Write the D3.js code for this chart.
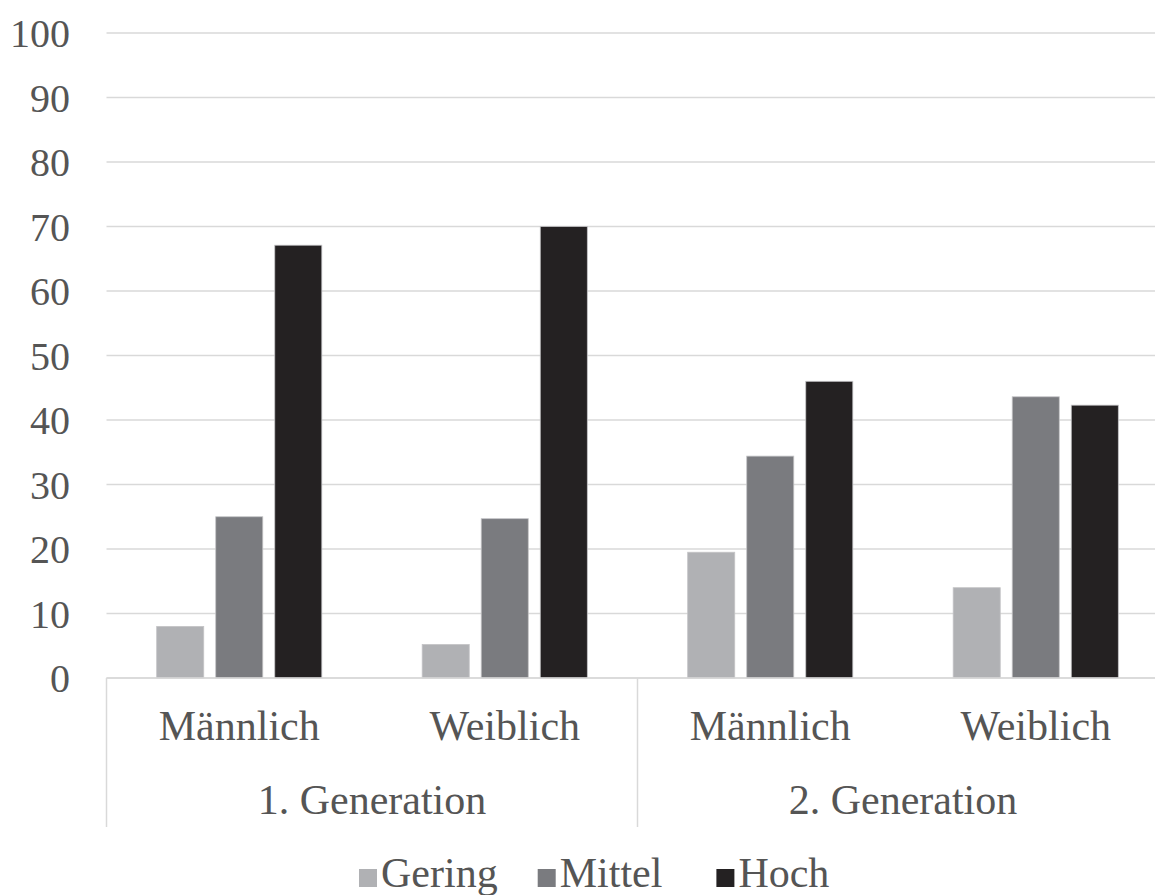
<!DOCTYPE html>
<html>
<head>
<meta charset="utf-8">
<script src="https://cdn.jsdelivr.net/npm/d3@7/dist/d3.min.js"></script>
</head>
<body style="margin:0">
<svg id="chart" width="1155" height="895" font-family="Liberation Serif, Tinos, serif" style="display:block;background:#ffffff;font-family:'Liberation Serif', Tinos, serif"></svg>
<script>
// Sub-groups (gender) within each generation
const categories = ["Männlich", "Weiblich", "Männlich", "Weiblich"];
const generations = ["1. Generation", "2. Generation"];
const series = ["Gering", "Mittel", "Hoch"];

// Values per series, one entry per category
const gering = [8, 5.2, 19.5, 14];
const mittel = [25, 24.7, 34.4, 43.6];
const hoch   = [67.1, 70, 46, 42.3];

const yTicks = [0, 10, 20, 30, 40, 50, 60, 70, 80, 90, 100];
const colors = ["#b0b1b4", "#7a7b7f", "#242122"];

const values = [gering, mittel, hoch];

const svg = d3.select("#chart");
const plotLeft = 106.5, plotRight = 1168.5, plotTop = 33, plotBottom = 678;
const textColor = "#555555";

const x0 = d3.scaleBand()
  .domain(d3.range(categories.length))
  .range([plotLeft, plotRight])
  .padding(0);

const x1 = d3.scaleBand()
  .domain(series)
  .range([0, x0.bandwidth()])
  .paddingInner(0.203)
  .paddingOuter(0.85);

const y = d3.scaleLinear().domain([0, 100]).range([plotBottom, plotTop]);

function label(sel, size) {
  return sel.attr("font-family", "Liberation Serif, Tinos, serif")
    .style("font-family", "'Liberation Serif', Tinos, serif")
    .style("font-size", size + "px")
    .style("fill", textColor);
}

// horizontal gridlines
svg.append("g")
  .selectAll("line")
  .data(yTicks)
  .join("line")
  .attr("x1", plotLeft)
  .attr("x2", plotRight)
  .attr("y1", d => y(d))
  .attr("y2", d => y(d))
  .attr("stroke", "#d9d9d9")
  .attr("stroke-width", 1.5);

// y tick labels
label(svg.append("g")
  .selectAll("text")
  .data(yTicks)
  .join("text")
  .attr("x", 70)
  .attr("y", d => y(d))
  .attr("dy", "0.35em")
  .attr("text-anchor", "end"), 40)
  .text(d => d);

// bars
const groups = svg.append("g")
  .selectAll("g")
  .data(categories.map((c, i) => i))
  .join("g")
  .attr("transform", i => `translate(${x0(i)},0)`);

groups.selectAll("rect")
  .data(i => series.map((s, k) => ({ s, k, v: values[k][i] })))
  .join("rect")
  .attr("x", d => x1(d.s))
  .attr("width", x1.bandwidth())
  .attr("y", d => y(d.v))
  .attr("height", d => y(0) - y(d.v))
  .attr("fill", d => colors[d.k])
  .attr("stroke", "#c4c4c6")
  .attr("stroke-width", 0.8);

// category axis: baseline and group separators
const axis = svg.append("g");
axis.append("line")
  .attr("x1", plotLeft).attr("x2", plotRight)
  .attr("y1", plotBottom).attr("y2", plotBottom)
  .attr("stroke", "#d9d9d9").attr("stroke-width", 1.5);

const sepBottom = 827;
const separators = [0, 2, 4].map(i => i < categories.length ? x0(i) : plotRight);
axis.selectAll("line.sep")
  .data(separators)
  .join("line")
  .attr("class", "sep")
  .attr("x1", d => d).attr("x2", d => d)
  .attr("y1", plotBottom).attr("y2", sepBottom)
  .attr("stroke", "#d9d9d9").attr("stroke-width", 1.5);

label(axis.selectAll("text.cat")
  .data(categories)
  .join("text")
  .attr("class", "cat")
  .attr("x", (d, i) => x0(i) + x0.bandwidth() / 2)
  .attr("y", 740)
  .attr("text-anchor", "middle"), 42)
  .text(d => d);

label(axis.selectAll("text.gen")
  .data(generations)
  .join("text")
  .attr("class", "gen")
  .attr("x", (d, g) => (x0(g * 2) + x0(g * 2 + 1) + x0.bandwidth()) / 2)
  .attr("y", 814)
  .attr("text-anchor", "middle"), 42)
  .text(d => d);

// legend
const legend = svg.append("g")
  .selectAll("g")
  .data(series)
  .join("g")
  .attr("transform", (d, i) => `translate(${359 + i * 178.7},869)`);

legend.append("rect")
  .attr("width", 18)
  .attr("height", 18)
  .attr("fill", (d, i) => colors[i]);

label(legend.append("text")
  .attr("x", 22)
  .attr("y", 18), 42)
  .text(d => d);
</script>
</body>
</html>
